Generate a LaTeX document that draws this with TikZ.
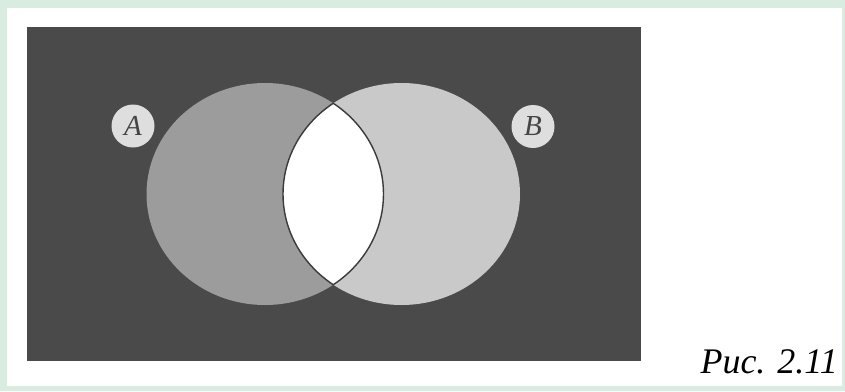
\documentclass[tikz,border=0pt]{standalone}
\usepackage{fontspec}
\newfontfamily\capfont{Liberation Serif}
\definecolor{mint}{HTML}{D8EDDF}
\definecolor{darkbg}{HTML}{4A4A4A}
\definecolor{setA}{HTML}{9C9C9C}
\definecolor{setB}{HTML}{C9C9C9}
\definecolor{labfill}{HTML}{DEDEDE}
\definecolor{labtext}{HTML}{444444}
\definecolor{lensline}{HTML}{3A3A3A}
\begin{document}
\begin{tikzpicture}[x=1pt,y=-1pt,
  labelcirc/.style={circle,fill=labfill,minimum size=43pt,inner sep=0pt,
    text=labtext,font=\capfont\fontsize{29}{29}\selectfont\itshape},
  captext/.style={anchor=base east,inner sep=0pt,
    font=\capfont\fontsize{36}{36}\selectfont\itshape}]
\useasboundingbox (0,0) rectangle (845,391);
\fill[mint] (0,0) rectangle (845,391);
\fill[white] (7,8) rectangle (842,386);
\fill[darkbg] (27,27) rectangle (641,361);
\fill[setA] (265,194) ellipse [x radius=118.5, y radius=111];
\fill[setB] (401.5,194) ellipse [x radius=118.5, y radius=111];
\begin{scope}
  \clip (265,194) ellipse [x radius=118.5, y radius=111];
  \fill[white] (401.5,194) ellipse [x radius=118.5, y radius=111];
  \draw[lensline,line width=1.4pt] (401.5,194) ellipse [x radius=118.5, y radius=111];
\end{scope}
\begin{scope}
  \clip (401.5,194) ellipse [x radius=118.5, y radius=111];
  \draw[lensline,line width=1.4pt] (265,194) ellipse [x radius=118.5, y radius=111];
\end{scope}
\node[labelcirc] (A) at (133,126) {A};
\node[labelcirc] (B) at (533,126.5) {B};
\node[captext] (cap) at (838,373) {Рис. 2.11};
\end{tikzpicture}
\end{document}
